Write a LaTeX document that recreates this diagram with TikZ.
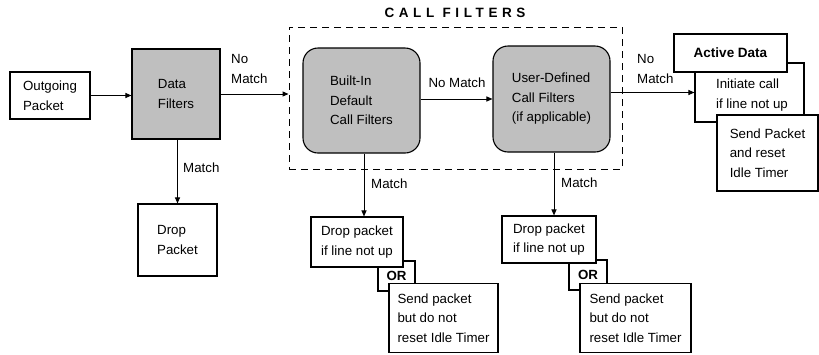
\documentclass[tikz,border=0pt]{standalone}
\usepackage{fontspec}
\setmainfont{Liberation Sans}
\newfontfamily\spacedfont[LetterSpace=34]{Liberation Sans}
\usetikzlibrary{arrows.meta,calc}
\begin{document}
\begin{tikzpicture}[x=1pt,y=-1pt,
  every node/.style={font=\fontsize{13.3}{19.5}\selectfont, inner sep=0pt},
  box/.style={draw, line width=1.1pt, align=left, fill=white},
  graybox/.style={box, fill=gray!50!white},
  roundbox/.style={graybox, rounded corners=15pt},
  orbox/.style={draw, line width=1.1pt, font=\fontsize{13.3}{15}\selectfont\bfseries, fill=white},
  lbl/.style={align=left},
  arr/.style={line width=1pt, -{Triangle[length=6pt,width=5pt]}},
  frame/.style={draw, line width=1pt, dash pattern=on 7pt off 5pt}
]
\useasboundingbox (0,0) rectangle (819,354);
% left part
\node[box, minimum width=80pt, minimum height=47pt] (out) at (50,95.5) {Outgoing\\Packet};
\node[graybox, minimum width=88pt, minimum height=90pt] (df) at (176,94) {Data\\Filters};
\node[box, minimum width=79pt, minimum height=72pt] (drop) at (177.5,240) {Drop\\Packet};
% call filters frame
\node[frame, minimum width=333pt, minimum height=142pt] (cf) at (455.5,98) {};
\node[font=\fontsize{13.5}{15}\selectfont\bfseries\spacedfont] (title) at (455,13) {CALL FILTERS};
\node[roundbox, minimum width=117pt, minimum height=105pt] (bi) at (361.5,100.5) {Built-In\\Default\\Call Filters};
\node[roundbox, minimum width=117pt, minimum height=106pt] (ud) at (551.5,99) {User-Defined\\Call Filters\\(if applicable)};
% bottom outcome boxes
\node[orbox, minimum width=37pt, minimum height=30pt] (or1) at (396.5,276) {OR};
\node[box, minimum width=92pt, minimum height=50pt] (d1) at (357,242) {Drop packet\\if line not up};
\node[box, minimum width=109pt, minimum height=69pt] (s1) at (443.5,318) {Send packet\\but do not\\reset Idle Timer};
\node[orbox, minimum width=38pt, minimum height=30pt] (or2) at (588,275) {OR};
\node[box, minimum width=94pt, minimum height=47pt] (d2) at (549,239.5) {Drop packet\\if line not up};
\node[box, minimum width=111pt, minimum height=69pt] (s2) at (635.5,318) {Send packet\\but do not\\reset Idle Timer};
% active data
\node[box, minimum width=109pt, minimum height=59pt] (ic) at (749.5,92.5) {};
\node[lbl] (ictext) at (752,95) {Initiate call\\if line not up};
\node[box, minimum width=113pt, minimum height=38pt, font=\fontsize{13.5}{15}\selectfont\bfseries] (ad) at (730.5,53) {Active Data};
\node[box, minimum width=101pt, minimum height=76pt] (sp) at (767.5,153) {Send Packet\\and reset\\Idle Timer};
% connectors
\draw[arr] (out.east) -- (out.east -| df.west);
\draw[arr] (df.east) -- (df.east -| cf.west);
\draw[arr] (df.south -| drop.north) -- (drop.north);
\draw[arr] (bi.east |- ud.west) -- (ud.west);
\draw[arr] (ud.east |- ic.west) -- (ic.west);
\draw[arr] ([xshift=2.5pt]bi.south) -- ([xshift=2.5pt]bi.south |- d1.north);
\draw[arr] ([xshift=2.5pt]ud.south) -- ([xshift=2.5pt]ud.south |- d2.north);
% labels
\node[lbl, anchor=west] (l1) at (231,69) {No\\Match};
\node[lbl, anchor=west] (l2) at (183,168) {Match};
\node[lbl] (l3) at (457,83) {No Match};
\node[lbl, anchor=west] (l4) at (371,184) {Match};
\node[lbl, anchor=west] (l5) at (561,183) {Match};
\node[lbl, anchor=west] (l6) at (637,69) {No\\Match};
\end{tikzpicture}
\end{document}
